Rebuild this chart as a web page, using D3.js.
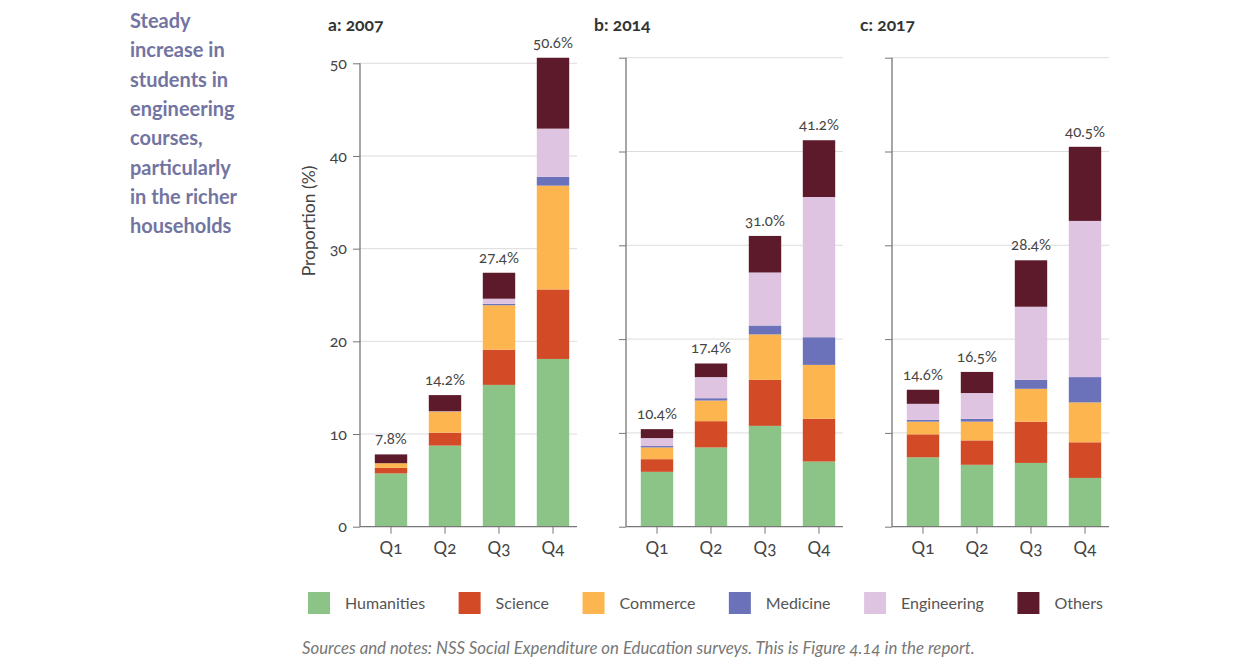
<!DOCTYPE html>
<html>
<head>
<meta charset="utf-8">
<script src="https://cdn.jsdelivr.net/npm/d3@7"></script>
<style>
  body { margin: 0; background: #fff; }
  svg text { font-family: Lato, "Open Sans", sans-serif; font-variant-numeric: oldstyle-nums; }
</style>
</head>
<body>
<div id="chart"></div>
<script>
// categories and series
var quartiles = ["Q1", "Q2", "Q3", "Q4"];
var courses = ["Humanities", "Science", "Commerce", "Medicine", "Engineering", "Others"];
var courseColors = ["#8cc386", "#d24a26", "#fdb64f", "#6c72b9", "#dfc4e1", "#5d1a2a"];
var years = ["a: 2007", "b: 2014", "c: 2017"];

// values per quartile, in course order
var values2007 = [
  [5.75, 0.6, 0.5, 0.0, 0.0, 0.95],
  [8.75, 1.4, 2.25, 0.0, 0.05, 1.75],
  [15.3, 3.8, 4.8, 0.15, 0.55, 2.8],
  [18.1, 7.5, 11.2, 0.95, 5.2, 7.65]
];
var values2014 = [
  [5.85, 1.35, 1.25, 0.15, 0.85, 0.95],
  [8.45, 2.8, 2.2, 0.25, 2.25, 1.45],
  [10.75, 4.9, 4.85, 0.95, 5.65, 3.9],
  [6.95, 4.55, 5.75, 2.95, 14.95, 6.05]
];
var values2017 = [
  [7.4, 2.45, 1.35, 0.2, 1.7, 1.5],
  [6.6, 2.6, 2.0, 0.3, 2.75, 2.25],
  [6.8, 4.4, 3.5, 0.95, 7.8, 4.95],
  [5.2, 3.8, 4.25, 2.7, 16.65, 7.9]
];
var totals2007 = ["7.8%", "14.2%", "27.4%", "50.6%"];
var totals2014 = ["10.4%", "17.4%", "31.0%", "41.2%"];
var totals2017 = ["14.6%", "16.5%", "28.4%", "40.5%"];

var yTicks = [0, 10, 20, 30, 40, 50];

var titleLines = ["Steady", "increase in", "students in", "engineering", "courses,", "particularly", "in the richer", "households"];
var footnote = "Sources and notes: NSS Social Expenditure on Education surveys. This is Figure 4.14 in the report.";

var W = 1241, H = 669;

var svg = d3.select("#chart")
    .append("svg")
    .attr("width", W)
    .attr("height", H);

// side title
svg.append("g")
    .selectAll("text")
    .data(titleLines)
    .enter()
    .append("text")
    .attr("x", 130)
    .attr("y", (d, i) => 28 + i * 29.3)
    .style("font-size", "20px")
    .style("font-weight", "bold")
    .style("fill", "#7274a1")
    .text(d => d);

//panel setup
var panels = [
  {title: years[0], values: values2007, totals: totals2007, x0: 360, top: 63.3, labels: true},
  {title: years[1], values: values2014, totals: totals2014, x0: 626, top: 57.7, labels: false},
  {title: years[2], values: values2017, totals: totals2017, x0: 892, top: 57.7, labels: false}
];
var baseY = 526.7;

var stack = d3.stack()
    .keys(d3.range(courses.length))
    .value((d, k) => d[k]);

panels.forEach(function(p) {
  var x = d3.scaleBand()
      .domain(quartiles)
      .range([p.x0 + 4, p.x0 + 220])
      .paddingInner(0.4)
      .paddingOuter(0.2);

  var y = d3.scaleLinear()
      .domain([0, 50])
      .range([baseY, p.top]);

  var g = svg.append("g");

  // panel title
  g.append("text")
      .attr("x", p.x0 - 32)
      .attr("y", 31)
      .style("font-size", "17.5px")
      .style("font-weight", "bold")
      .style("fill", "#333")
      .text(p.title);

  // gridlines
  var grid = yTicks.slice(1);
  g.selectAll(".grid")
      .data(grid)
      .enter()
      .append("line")
      .attr("x1", p.x0)
      .attr("x2", p.x0 + 217)
      .attr("y1", d => y(d))
      .attr("y2", d => y(d))
      .style("stroke", "#dcdcdc")
      .style("stroke-width", 1);

  // y axis
  var yAxis = d3.axisLeft(y)
      .tickValues(yTicks)
      .tickSize(7)
      .tickPadding(6)
      .tickFormat(p.labels ? d3.format("d") : "");
  var ya = g.append("g")
      .attr("transform", "translate(" + p.x0 + ",0)")
      .call(yAxis);
  ya.select(".domain").attr("d", "M0," + y(50) + "V" + baseY);
  ya.selectAll("line").style("stroke", "#777");
  ya.select(".domain").style("stroke", "#777").style("stroke-width", 1.3);
  ya.selectAll("text").style("font-size", "16px").style("fill", "#444").style("font-family", "Lato, sans-serif");

  // stacked bars
  var series = stack(p.values);
  g.selectAll(".layer")
      .data(series)
      .enter()
      .append("g")
      .style("fill", (d, i) => courseColors[i])
      .selectAll("rect")
      .data(d => d.map((v, j) => ({v: v, q: quartiles[j]})))
      .enter()
      .append("rect")
      .attr("x", d => x(d.q))
      .attr("width", x.bandwidth())
      .attr("y", d => y(d.v[1]))
      .attr("height", d => y(d.v[0]) - y(d.v[1]));

  // x axis
  var xAxis = d3.axisBottom(x).tickSize(7).tickPadding(8).tickSizeOuter(0);
  var xa = g.append("g")
      .attr("transform", "translate(0," + baseY + ")")
      .call(xAxis);
  xa.select(".domain").attr("d", "M" + p.x0 + ",0H" + (p.x0 + 217)).style("stroke", "#777").style("stroke-width", 1.3);
  xa.selectAll("line").style("stroke", "#777");
  xa.selectAll("text").style("font-size", "17px").style("fill", "#444").style("font-family", "Lato, sans-serif");

  // totals above bars
  var tops = series[series.length - 1];
  g.selectAll(".total")
      .data(p.totals)
      .enter()
      .append("text")
      .attr("x", (d, i) => x(quartiles[i]) + x.bandwidth() / 2)
      .attr("y", (d, i) => y(tops[i][1]) - 10)
      .attr("text-anchor", "middle")
      .style("font-size", "15px")
      .style("fill", "#444")
      .text(d => d);
});

// y label
svg.append("text")
    .attr("transform", "translate(315,221) rotate(-90)")
    .attr("text-anchor", "middle")
    .style("font-size", "17.5px")
    .style("fill", "#444")
    .text("Proportion (%)");

// legend
var legend = svg.append("g");
var lx = 308;
courses.forEach(function(c, i) {
  legend.append("rect")
      .attr("x", lx)
      .attr("y", 592)
      .attr("width", 22)
      .attr("height", 22)
      .style("fill", courseColors[i]);
  var t = legend.append("text")
      .attr("x", lx + 37)
      .attr("y", 609)
      .style("font-size", "16px")
      .style("fill", "#555")
      .text(c);
  lx = lx + 37 + t.node().getComputedTextLength() + 33.5;
});

// footnote
svg.append("text")
    .attr("x", 302)
    .attr("y", 654)
    .style("font-size", "16.8px")
    .style("font-style", "italic")
    .style("fill", "#777")
    .text(footnote);
</script>
</body>
</html>
